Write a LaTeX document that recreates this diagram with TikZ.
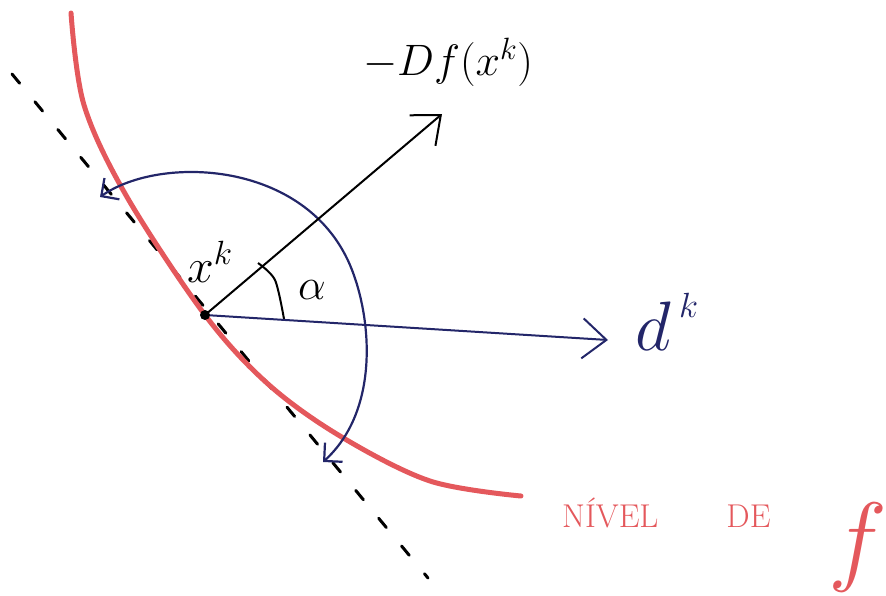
\documentclass[tikz,border=0pt]{standalone}
\usepackage{fix-cm}
\usepackage{tikz}
\usetikzlibrary{arrows.meta}
\definecolor{cniv}{RGB}{228,88,92}
\definecolor{cnavy}{RGB}{35,38,105}
\tikzset{
  vec/.style={-{Straight Barb[length=24pt,width=40pt]},line width=2pt},
  turn/.style={{Straight Barb[length=13pt,width=26pt]}-{Straight Barb[length=13pt,width=26pt]},
    line width=2.2pt,color=cnavy},
  level/.style={line width=5pt,color=cniv,line cap=round},
  tang/.style={line width=3pt,line cap=round,dash pattern=on 12pt off 24pt},
  lab/.style={inner sep=0pt}
}
\begin{document}
\begin{tikzpicture}[x=1pt,y=-1pt]
  \useasboundingbox (0,0) rectangle (886,595);
  \coordinate (xk) at (205,315);
  \coordinate (gtip) at (442,114);
  \coordinate (dtip) at (608,340);
  \coordinate (tangA) at (12,74);
  \coordinate (tangB) at (428,578);
  \coordinate (turnA) at (100,197);
  \coordinate (turnM) at (350,265);
  \coordinate (turnB) at (323,462);
  % tangent line at x^k
  \draw[tang] (tangA) -- (tangB);
  % level curve of f
  \draw[level] plot[smooth,tension=0.55] coordinates {(71,13) (84,105)
    (127,197) (205,315) (268,384) (340,436) (430,481) (521,496)};
  % possible directions d^k
  \draw[turn] (turnA) .. controls (160,155) and (305,160) .. (turnM)
    .. controls (372,317) and (380,410) .. (turnB);
  % angle alpha
  \draw[line width=2pt] plot[smooth] coordinates {(258,263) (275,280) (284,319)};
  \draw[vec] (xk) -- (gtip);
  \draw[vec,color=cnavy] (xk) -- (dtip);
  \fill (xk) circle (5pt);
  \node[lab,font=\fontsize{44}{50}\selectfont] (grad) at (448,62) {$-Df(x^k)$};
  \node[lab,font=\fontsize{48}{54}\selectfont] (xlab) at (210,262) {$x^{\scriptstyle k}$};
  \node[lab,font=\fontsize{44}{50}\selectfont] (alab) at (312,290) {$\alpha$};
  \node[lab,font=\fontsize{70}{80}\selectfont,text=cnavy] (dlab) at (667,322)
    {$d^{\,\raisebox{8pt}{$\scriptscriptstyle k$}}$};
  \node[lab,font=\fontsize{33}{38}\selectfont,text=cniv,anchor=base west] (nivel)
    at (562,527) {NÍVEL\hspace*{68pt}DE\hspace*{58pt}\raisebox{-45pt}{\fontsize{100}{110}\selectfont$f$}};
\end{tikzpicture}
\end{document}
